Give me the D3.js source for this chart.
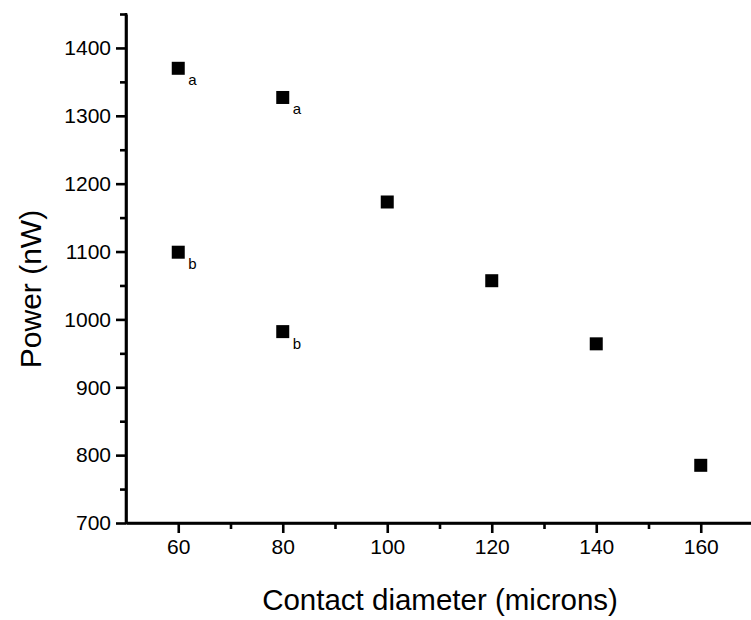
<!DOCTYPE html>
<html>
<head>
<meta charset="utf-8">
<script src="https://cdn.jsdelivr.net/npm/d3@7"></script>
<style>
  body { margin: 0; background: #fff; }
  text { font-family: Arial, "Liberation Sans", sans-serif; fill: #000; }
  .axis path, .axis line { stroke: #000; stroke-width: 2.6; }
  .axis text { font-size: 21px; }
</style>
</head>
<body>
<script>
(function(){

    //data
    var diameters = [60, 80, 100, 120, 140, 160, 60, 80];
    var powers = [1370, 1327, 1173, 1057, 964, 785, 1099, 982];
    var letters = ["a", "a", "", "", "", "", "b", "b"];

    //tick values
    var xMajor = [60, 80, 100, 120, 140, 160];
    var xMinor = [70, 90, 110, 130, 150, 170];
    var yMajor = [700, 800, 900, 1000, 1100, 1200, 1300, 1400];
    var yMinor = [750, 850, 950, 1050, 1150, 1250, 1350, 1450];

    var width = 751, height = 620;

    var svg = d3.select("body")
        .append("svg")
        .attr("width", width)
        .attr("height", height);

    var x = d3.scaleLinear().domain([50, 170]).range([126, 753]);
    var y = d3.scaleLinear().domain([700, 1450]).range([523, 14]);

    //minor ticks first, then major axes on top
    svg.append("g")
        .attr("class", "axis")
        .attr("transform", "translate(0,523)")
        .call(d3.axisBottom(x).tickValues(xMinor).tickSize(6).tickSizeOuter(0).tickFormat(""));

    svg.append("g")
        .attr("class", "axis")
        .attr("transform", "translate(126,0)")
        .call(d3.axisLeft(y).tickValues(yMinor).tickSize(6).tickSizeOuter(0).tickFormat(""));

    var xAxis = svg.append("g")
        .attr("class", "axis")
        .attr("transform", "translate(0,523)")
        .call(d3.axisBottom(x).tickValues(xMajor).tickSize(10).tickSizeOuter(0).tickPadding(6).tickFormat(d3.format("d")));
    xAxis.select(".domain").attr("d", "M126,0H751");

    var yAxis = svg.append("g")
        .attr("class", "axis")
        .attr("transform", "translate(126,0)")
        .call(d3.axisLeft(y).tickValues(yMajor).tickSize(10).tickSizeOuter(0).tickPadding(5).tickFormat(d3.format("d")));
    yAxis.select(".domain").attr("d", "M0,523V13");

    //axis titles
    svg.append("text")
        .attr("x", 440)
        .attr("y", 610)
        .attr("text-anchor", "middle")
        .style("font-size", "29.5px")
        .text("Contact diameter (microns)");

    svg.append("text")
        .attr("transform", "translate(41,289) rotate(-90)")
        .attr("text-anchor", "middle")
        .style("font-size", "30px")
        .text("Power (nW)");

    //square markers
    svg.selectAll(".pt")
        .data(diameters)
        .enter()
        .append("rect")
        .attr("class", "pt")
        .attr("x", function(d){ return x(d) - 6.5; })
        .attr("y", function(d, i){ return y(powers[i]) - 6.5; })
        .attr("width", 13)
        .attr("height", 13)
        .attr("fill", "#000");

    //subscript letters
    svg.selectAll(".lbl")
        .data(diameters)
        .enter()
        .append("text")
        .attr("class", "lbl")
        .attr("x", function(d){ return x(d) + 10; })
        .attr("y", function(d, i){ return y(powers[i]) + 17; })
        .style("font-size", "15px")
        .text(function(d, i){ return letters[i]; });

})();
</script>
</body>
</html>
